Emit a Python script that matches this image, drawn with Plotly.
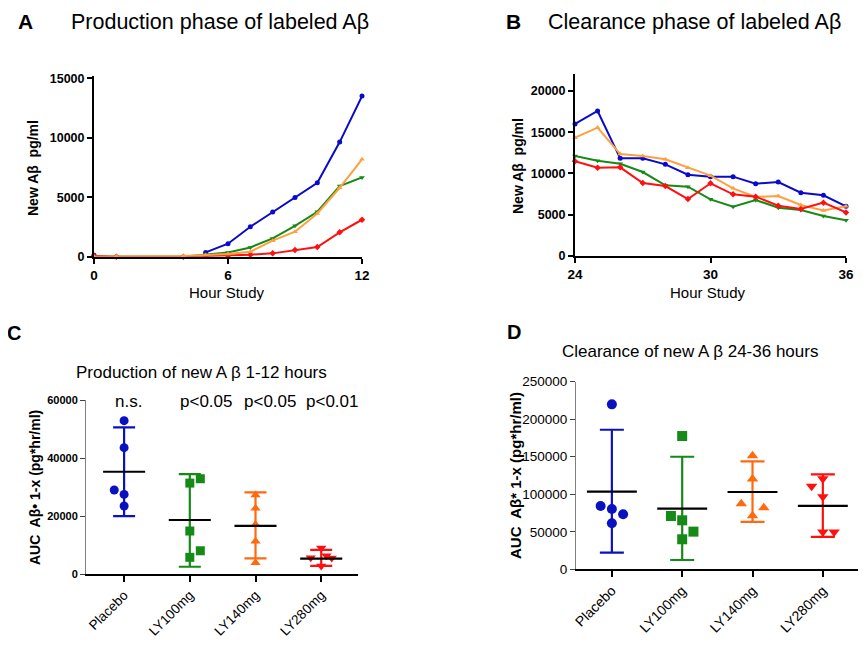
import plotly.graph_objects as go

# page body has an 8px margin; the figure is sized to fill the rest of the window
OFF = 8
W, H = 866 - OFF, 658 - OFF

# ---------------- Data ----------------
hours_a = [0, 1, 4, 5, 6, 7, 8, 9, 10, 11, 12]
prod_placebo = [120, None, None, 360, 1090, 2520, 3760, 4990, 6220, 9640, 13510]
prod_ly100 = [30, 0, 0, 200, 360, 780, 1540, 2600, 3780, 5940, 6670]
prod_ly280 = [50, 0, 0, 50, 80, 170, 280, 560, 810, 2050, 3110]
prod_ly140 = [0, 20, 50, 140, 220, 420, 1350, 2100, 3640, 5800, 8190]

hours_b = [24, 25, 26, 27, 28, 29, 30, 31, 32, 33, 34, 35, 36]
clr_placebo = [15990, 17570, 11820, 11820, 11090, 9840, 9600, 9600, 8740, 8950, 7650, 7330, 5990]
clr_ly140 = [14330, 15550, 12350, 12100, 11700, 10690, 9720, 8180, 7130, 7250, 6150, 5500, 6000]
clr_ly100 = [12100, 11540, 11170, 10160, 8540, 8380, 6840, 5950, 6760, 5830, 5550, 4820, 4290]
clr_ly280 = [11460, 10690, 10730, 8830, 8460, 6880, 8790, 7450, 7170, 6070, 5670, 6440, 5260]

groups = ["Placebo", "LY100mg", "LY140mg", "LY280mg"]

auc_prod = [
    [52900, 43600, 29000, 27500, 23500],
    [31400, 32900, 14900, 8100, 5850],
    [27300, 22700, 17100, 11400, 4000],
    [9050, 5700, 6400, 5600, 2860],
]
auc_prod_mean = [35300, 18700, 16700, 5400]
auc_prod_hi = [50600, 34500, 28200, 8400]
auc_prod_lo = [20000, 2600, 5500, 2900]
p_labels = ["n.s.", "p<0.05", "p<0.05", "p<0.01"]

auc_clr = [
    [219800, 84400, 80400, 73300, 61300],
    [177600, 71000, 65300, 50200, 40000],
    [151400, 120300, 87500, 82100, 71500],
    [120800, 110600, 96800, 49700, 49700],
]
auc_clr_mean = [103500, 80800, 103000, 84400]
auc_clr_hi = [186000, 150000, 143900, 126600]
auc_clr_lo = [22200, 12400, 63100, 43100]

# ---------------- Styles ----------------
FONT = "Arial, Liberation Sans, Helvetica, sans-serif"
line_colors = {"Placebo": "#0A0ACC", "LY100mg": "#168A16", "LY140mg": "#FFA040", "LY280mg": "#FF1010"}
dot_colors = ["#0A12C0", "#168A16", "#FF6A10", "#FF1010"]
line_symbols = {"Placebo": "circle", "LY100mg": "triangle-down", "LY140mg": "triangle-up", "LY280mg": "diamond"}
dot_symbols = ["circle", "square", "triangle-up", "triangle-down"]
jitter_c = [[0, 0, -0.15, 0, 0], [0, 0.16, 0, 0.16, 0], [0, 0, 0, 0, 0], [0, -0.16, 0.08, 0.16, 0]]
jitter_d = [[0, -0.16, 0, 0.16, 0], [0, -0.16, 0, 0.16, 0], [0, 0, -0.16, 0.16, 0], [0, -0.16, 0, 0, 0.16]]


def px(x):
    return (x - OFF) / W


def py(y):
    return 1 - (y - OFF) / H


fig = go.Figure()

# Panel A
for name, vals in [("Placebo", prod_placebo), ("LY100mg", prod_ly100),
                   ("LY280mg", prod_ly280), ("LY140mg", prod_ly140)]:
    fig.add_trace(go.Scatter(
        x=hours_a, y=vals, mode="lines+markers", xaxis="x", yaxis="y",
        line=dict(color=line_colors[name], width=2),
        marker=dict(symbol=line_symbols[name], size=5, color=line_colors[name]),
        cliponaxis=False, showlegend=False, name=name))

# Panel B
for name, vals in [("Placebo", clr_placebo), ("LY140mg", clr_ly140),
                   ("LY100mg", clr_ly100), ("LY280mg", clr_ly280)]:
    fig.add_trace(go.Scatter(
        x=hours_b, y=vals, mode="lines+markers", xaxis="x2", yaxis="y2",
        line=dict(color=line_colors[name], width=2),
        marker=dict(symbol=line_symbols[name], size=5, color=line_colors[name]),
        cliponaxis=False, showlegend=False, name=name))


def dot_panel(xa, ya, data, means, his, los, jitter, hw, cap, msize):
    for i, g in enumerate(groups):
        # error bar (SD)
        fig.add_trace(go.Scatter(
            x=[i], y=[means[i]], mode="markers", xaxis=xa, yaxis=ya,
            marker=dict(size=1, color="rgba(0,0,0,0)"),
            error_y=dict(type="data", symmetric=False,
                         array=[his[i] - means[i]], arrayminus=[means[i] - los[i]],
                         width=cap, thickness=2.2, color=dot_colors[i]),
            cliponaxis=False, showlegend=False, hoverinfo="skip"))
        # individual points
        fig.add_trace(go.Scatter(
            x=[i + j for j in jitter[i]], y=data[i], mode="markers",
            xaxis=xa, yaxis=ya,
            marker=dict(symbol=dot_symbols[i], size=msize, color=dot_colors[i]),
            cliponaxis=False, showlegend=False, name=g))
        # mean line
        fig.add_trace(go.Scatter(
            x=[i - hw, i + hw], y=[means[i], means[i]], mode="lines",
            xaxis=xa, yaxis=ya, line=dict(color="black", width=2.2),
            cliponaxis=False, showlegend=False, hoverinfo="skip"))


dot_panel("x3", "y3", auc_prod, auc_prod_mean, auc_prod_hi, auc_prod_lo, jitter_c, 0.32, 11, 9)
dot_panel("x4", "y4", auc_clr, auc_clr_mean, auc_clr_hi, auc_clr_lo, jitter_d, 0.355, 12, 10)

axis_common = dict(showline=True, linecolor="black", linewidth=2, ticks="outside",
                   ticklen=5, tickwidth=2, tickcolor="black", showgrid=False,
                   zeroline=False, fixedrange=True, automargin=False, tickformat="d")

bold12 = dict(family=FONT, size=12.5, color="black", weight="bold")
bold13 = dict(family=FONT, size=13.5, color="black", weight="bold")

fig.update_layout(
    template="none",
    width=W, height=H, margin=dict(l=0, r=0, t=0, b=0, pad=0, autoexpand=False),
    paper_bgcolor="white", plot_bgcolor="white", showlegend=False,
    font=dict(family=FONT, color="black"),
    xaxis=dict(axis_common, domain=[px(94), px(362)], range=[0, 12],
               tickvals=[0, 6, 12], tickfont=bold13, anchor="y"),
    yaxis=dict(axis_common, domain=[py(256.7), py(76)], range=[0, 15200],
               tickvals=[0, 5000, 10000, 15000], tickfont=bold12, anchor="x"),
    xaxis2=dict(axis_common, domain=[px(575), px(846)], range=[24, 36],
                tickvals=[24, 30, 36], tickfont=bold13, anchor="y2"),
    yaxis2=dict(axis_common, domain=[py(255.7), py(74)], range=[0, 22060],
                tickvals=[0, 5000, 10000, 15000, 20000], tickfont=bold12, anchor="x2"),
    xaxis3=dict(axis_common, domain=[px(86), px(358)], range=[-0.58, 3.56],
                linewidth=1.5, tickwidth=1.5, ticklen=6, tickformat="",
                tickvals=[0, 1, 2, 3], ticktext=groups, tickangle=-45,
                tickfont=dict(family=FONT, size=13.5, color="black"), anchor="y3"),
    yaxis3=dict(axis_common, domain=[py(574.3), py(400)], range=[0, 60000],
                linecolor="#808080", linewidth=1, tickwidth=1, tickcolor="#404040",
                tickvals=[0, 20000, 40000, 60000],
                tickfont=dict(family=FONT, size=11, color="black", weight="bold"), anchor="x3"),
    xaxis4=dict(axis_common, domain=[px(576), px(858)], range=[-0.51, 3.5],
                linewidth=1.5, tickwidth=1.5, ticklen=6, tickformat="",
                tickvals=[0, 1, 2, 3], ticktext=groups, tickangle=-45,
                tickfont=dict(family=FONT, size=14, color="black"), anchor="y4"),
    yaxis4=dict(axis_common, domain=[py(569.3), py(381.7)], range=[0, 250000],
                linecolor="#808080", linewidth=1, tickwidth=1, tickcolor="#404040",
                tickvals=[0, 50000, 100000, 150000, 200000, 250000],
                tickfont=dict(family=FONT, size=13.5, color="black"), anchor="x4"),
)


def ann(text, x, y, size, bold=False, angle=0, xanchor="center"):
    fig.add_annotation(
        text=text, x=px(x), y=py(y), xref="paper", yref="paper",
        xanchor=xanchor, yanchor="middle", showarrow=False, textangle=angle,
        font=dict(family=FONT, size=size, color="black", weight="bold" if bold else "normal"))


# Panel letters and titles
ann("A", 25, 22, 21, bold=True)
ann("Production phase of labeled Aβ", 69, 22, 21.5, xanchor="left")
ann("B", 513, 22, 21, bold=True)
ann("Clearance phase of labeled Aβ", 546, 22, 21.5, xanchor="left")
ann("C", 14, 333, 20, bold=True)
ann("Production of new A β 1-12 hours", 201, 372, 17)
ann("D", 514, 332, 20, bold=True)
ann("Clearance of new A β 24-36 hours", 690, 351, 17)

# Axis titles
ann("New Aβ  pg/ml", 33, 168, 14, bold=True, angle=-90)
ann("New Aβ  pg/ml", 518, 166, 14, bold=True, angle=-90)
ann("Hour Study", 227, 292, 15)
ann("Hour Study", 708, 292, 15)
ann("AUC  Aβ• 1-x (pg*hr/ml)", 35, 488, 14, bold=True, angle=-90)
ann("AUC  Aβ* 1-x (pg*hr/ml)", 515, 476, 15, bold=True, angle=-90)

# significance labels
for lbl, xp in zip(p_labels, [128, 206, 270, 332]):
    ann(lbl, xp, 401, 17)

fig.write_html("out.html")
